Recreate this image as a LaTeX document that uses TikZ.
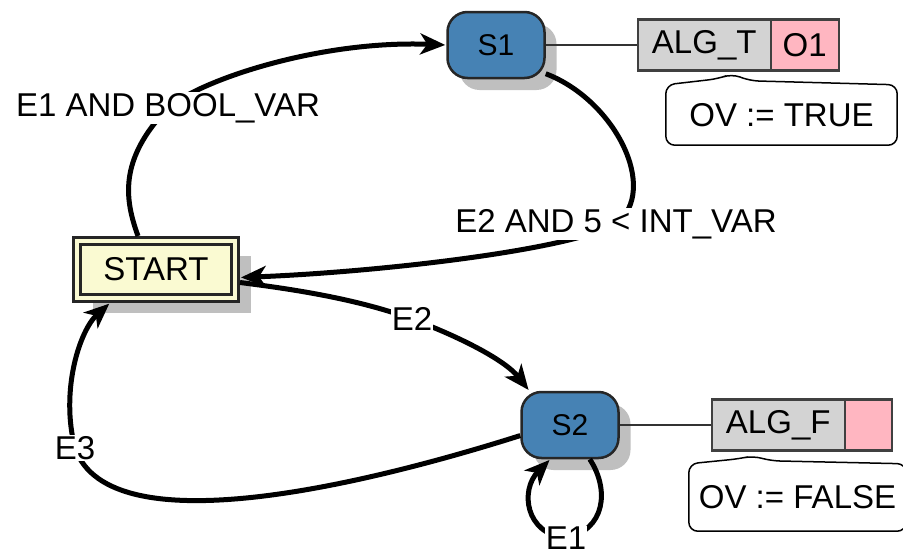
\documentclass[tikz,border=0pt]{standalone}
\usepackage{fontspec}
\setmainfont{Liberation Sans}
\usetikzlibrary{arrows.meta, shadows, calc, positioning}
\definecolor{stateblue}{HTML}{4682B4}
\definecolor{startfill}{HTML}{FAFAD2}
\definecolor{alggray}{HTML}{D3D3D3}
\definecolor{algpink}{HTML}{FFB6C1}
\newcommand{\bigfont}{\fontsize{33}{38}\selectfont}
\newcommand{\statefont}{\fontsize{30}{34}\selectfont}
\begin{document}
\begin{tikzpicture}[x=1pt,y=-1pt,->,>={Stealth[length=25pt,width=21pt,inset=7pt]},shorten >=1pt,node distance=92pt]
	\tikzset{
		statebox/.style={rectangle, rounded corners=20pt, draw=black!85, line width=2.5pt, fill=stateblue,
			minimum width=97pt, minimum height=66pt, font=\statefont,
			drop shadow={shadow xshift=12pt, shadow yshift=-12pt, fill=black!25, opacity=1}},
		startbox/.style={rectangle, draw=black!85, line width=3pt, double=startfill, double distance=4.5pt,
			fill=startfill, minimum width=158pt, minimum height=57pt, outer sep=5pt, font=\bigfont,
			drop shadow={shadow xshift=16pt, shadow yshift=-15pt, fill=black!25, opacity=1}},
		algname/.style={rectangle, draw=black!75, line width=2.5pt, fill=alggray, minimum width=133pt,
			minimum height=51pt, inner sep=0pt, outer sep=0pt, font=\bigfont},
		algout/.style={algname, fill=algpink},
		actiontext/.style={inner sep=0pt, font=\bigfont},
		callout/.style={-, draw=black, line width=1.5pt, rounded corners=9pt},
		trans/.style={line width=5pt},
		lbl/.style={fill=white, inner sep=1pt, font=\bigfont}
	}
	\useasboundingbox (0,0) rectangle (903,554);

	\node[startbox] (start) at (156,269.5) {START};
	\node[statebox] (s1) at (496,45) {S1};
	\node[statebox] (s2) at (570,425) {S2};

	% actions of the states
	\node[algname, right=of s1] (algT) {ALG\_T};
	\node[algout, minimum width=68pt, right=0pt of algT] (algTo) {O1};
	\node[algname, right=of s2] (algF) {ALG\_F};
	\node[algout, minimum width=47pt, right=0pt of algF] (algFo) {};
	\draw[-, line width=2pt, black!80] (s1) -- (algT);
	\draw[-, line width=2pt, black!80] (s2) -- (algF);

	\node[actiontext, minimum width=231pt, minimum height=60pt] (ovT) at (781.5,115) {OV := TRUE};
	\node[actiontext, minimum width=217pt, minimum height=67pt] (ovF) at (797.5,497.5) {OV := FALSE};
	\draw[callout] (ovT.south west) -- (ovT.north west) -- ($(ovT.north west)+(52,-6)$)
		-- ($(ovT.north west)+(66,-11)$) -- ($(ovT.north west)+(84,-4)$) -- (ovT.north east)
		-- (ovT.south east) -- cycle;
	\draw[callout] (ovF.south west) -- (ovF.north west) -- ($(ovF.north west)+(50,-5)$)
		-- ($(ovF.north west)+(64,-8)$) -- ($(ovF.north west)+(82,-3)$) -- (ovF.north east)
		-- (ovF.south east) -- cycle;

	% transitions
	\draw[trans] ([xshift=-18pt]start.north) .. controls (125,200) and (118,160) .. (168,108)
		node[lbl] {E1 AND BOOL\_VAR}
		.. controls (200,80) and (320,40) .. (s1.west);
	\draw[trans] (s1.-30) .. controls (615,100) and (660,190) .. (616,224)
		node[lbl] {E2 AND 5 < INT\_VAR}
		.. controls (570,250) and (380,272) .. ([yshift=-8pt]start.east);
	\draw[trans] ([yshift=-13pt]start.east) .. controls (300,290) and (360,300) .. (412,319)
		node[lbl] {E2}
		.. controls (460,337) and (505,360) .. (s2.140);
	\draw[trans] (s2.192) .. controls (380,480) and (110,550) .. (75,448)
		node[lbl] {E3}
		.. controls (60,390) and (80,330) .. ([xshift=-46pt]start.south);
	\draw[trans] (s2.-60) .. controls (610,490) and (605,530) .. (566,538)
		node[lbl] {E1}
		.. controls (525,534) and (520,490) .. (s2.-120);
\end{tikzpicture}
\end{document}
